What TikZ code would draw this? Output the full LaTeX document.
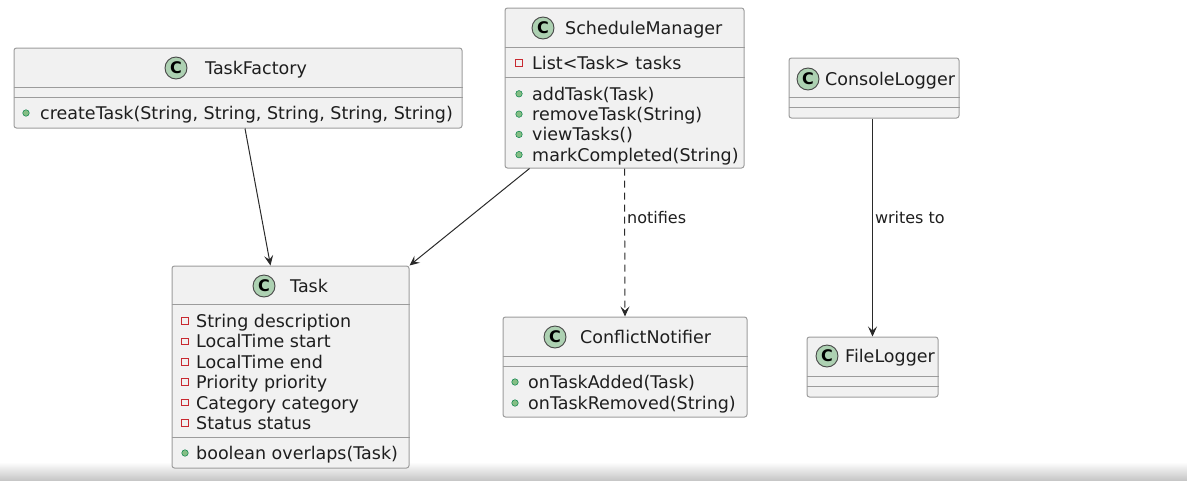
\documentclass[tikz,border=0pt]{standalone}
\usepackage{fontspec}
\setmainfont{DejaVu Sans}
\usetikzlibrary{arrows.meta, positioning}

\definecolor{boxfill}{HTML}{F1F1F1}
\definecolor{boxline}{HTML}{9C9C9C}
\definecolor{iconfill}{HTML}{ADD1B2}
\definecolor{iconline}{HTML}{474747}
\definecolor{privcol}{HTML}{C82930}
\definecolor{pubfill}{HTML}{84BE84}
\definecolor{publine}{HTML}{038048}
\definecolor{textcol}{HTML}{1E1E1E}
\definecolor{arrowcol}{HTML}{2A2A2A}

\begin{document}
\begin{tikzpicture}[x=1pt, y=-1pt, >={Stealth[length=10pt, width=9pt, inset=4pt]},
    classbox/.style={draw=boxline, fill=boxfill, line width=1pt, rounded corners=2.5pt, inner sep=0pt},
    cicon/.style={circle, draw=iconline, fill=iconfill, line width=0.9pt, minimum size=22pt, inner sep=0pt, font=\fontsize{16}{16}\selectfont\bfseries},
    cname/.style={anchor=west, inner sep=0pt, text height=13pt, text depth=0pt, text=textcol, font=\fontsize{17.5}{20}\selectfont},
    member/.style={anchor=west, inner sep=0pt, text height=13pt, text depth=0pt, text=textcol, font=\fontsize{17.5}{20}\selectfont},
    priv/.style={rectangle, draw=privcol, line width=0.8pt, minimum size=6.5pt, inner sep=0pt},
    pub/.style={circle, draw=publine, fill=pubfill, line width=0.5pt, minimum size=6.5pt, inner sep=0pt},
    sep/.style={draw=boxline, line width=1pt},
    assoc/.style={->, draw=arrowcol, line width=1pt},
    lbl/.style={anchor=west, inner sep=0pt, text height=12pt, text depth=3.5pt, text=textcol, font=\fontsize{16}{18}\selectfont}
  ]
  \useasboundingbox (0,0) rectangle (1187,480);
  % bande grise en bas
  \shade[top color=white, bottom color=black!22] (0,462) rectangle (1187,480);

  % TaskFactory
  \node[classbox, minimum width=448pt, minimum height=80pt] (factory) at (238,88) {};
  \draw[sep] ([yshift=-40pt]factory.north west) -- ([yshift=-40pt]factory.north east);
  \draw[sep] ([yshift=-50pt]factory.north west) -- ([yshift=-50pt]factory.north east);
  \node[cicon] (factoryC) at (176,68) {C};
  \node[cname] (factoryN) at (205,68) {TaskFactory};
  \node[pub] at (26,113) {};
  \node[member] (factoryM1) at (40,113) {createTask(String, String, String, String, String)};

  % ScheduleManager
  \node[classbox, minimum width=239pt, minimum height=160pt] (manager) at (624.5,88) {};
  \draw[sep] ([yshift=-40pt]manager.north west) -- ([yshift=-40pt]manager.north east);
  \draw[sep] ([yshift=-70pt]manager.north west) -- ([yshift=-70pt]manager.north east);
  \node[cicon] (managerC) at (543,28) {C};
  \node[cname] (managerN) at (565,28) {ScheduleManager};
  \node[priv] at (519,63) {};
  \node[member] (managerA1) at (532,63) {List<Task> tasks};
  \foreach \txt [count=\i] in {addTask(Task), removeTask(String), viewTasks(), markCompleted(String)} {
    \node[pub] at (519,{73.5+20.3*\i}) {};
    \node[member] (managerM\i) at (532,{73.5+20.3*\i}) {\txt};
  }

  % ConsoleLogger
  \node[classbox, minimum width=170pt, minimum height=60pt] (console) at (874,88) {};
  \draw[sep] ([yshift=-40pt]console.north west) -- ([yshift=-40pt]console.north east);
  \draw[sep] ([yshift=-50pt]console.north west) -- ([yshift=-50pt]console.north east);
  \node[cicon] (consoleC) at (808,79) {C};
  \node[cname] (consoleN) at (825,79) {ConsoleLogger};

  % Task
  \node[classbox, minimum width=237pt, minimum height=202pt] (task) at (290.5,367) {};
  \draw[sep] ([yshift=-39pt]task.north west) -- ([yshift=-39pt]task.north east);
  \draw[sep] ([yshift=-172pt]task.north west) -- ([yshift=-172pt]task.north east);
  \node[cicon] (taskC) at (264,286) {C};
  \node[cname] (taskN) at (290,286) {Task};
  \foreach \txt [count=\i] in {String description, LocalTime start, LocalTime end, Priority priority, Category category, Status status} {
    \node[priv] at (185,{300.5+20.4*\i}) {};
    \node[member] (taskA\i) at (196,{300.5+20.4*\i}) {\txt};
  }
  \node[pub] at (185,453) {};
  \node[member] (taskM1) at (196,453) {boolean overlaps(Task)};

  % ConflictNotifier
  \node[classbox, minimum width=244pt, minimum height=100pt] (notifier) at (625,367) {};
  \draw[sep] ([yshift=-40pt]notifier.north west) -- ([yshift=-40pt]notifier.north east);
  \draw[sep] ([yshift=-50pt]notifier.north west) -- ([yshift=-50pt]notifier.north east);
  \node[cicon] (notifierC) at (555,337) {C};
  \node[cname] (notifierN) at (580,337) {ConflictNotifier};
  \node[pub] at (515,382) {};
  \node[member] (notifierM1) at (528,382) {onTaskAdded(Task)};
  \node[pub] at (515,403) {};
  \node[member] (notifierM2) at (528,403) {onTaskRemoved(String)};

  % FileLogger
  \node[classbox, minimum width=131pt, minimum height=60pt] (file) at (872.5,367) {};
  \draw[sep] ([yshift=-40pt]file.north west) -- ([yshift=-40pt]file.north east);
  \draw[sep] ([yshift=-50pt]file.north west) -- ([yshift=-50pt]file.north east);
  \node[cicon] (fileC) at (827,356) {C};
  \node[cname] (fileN) at (845,356) {FileLogger};

  % Associations
  \draw[assoc] ([xshift=7pt]factory.south) -- ([xshift=-20pt]task.north);
  \draw[assoc] ([xshift=-95pt]manager.south) -- (task.north east);
  \draw[assoc, dash pattern=on 7pt off 5pt] (manager.south) -- (notifier.north)
    node[lbl, pos=0.34, xshift=2pt] (notifiesL) {notifies};
  \draw[assoc] (file.north |- console.south) -- (file.north)
    node[lbl, pos=0.46, xshift=2pt] (writesL) {writes to};
\end{tikzpicture}
\end{document}
